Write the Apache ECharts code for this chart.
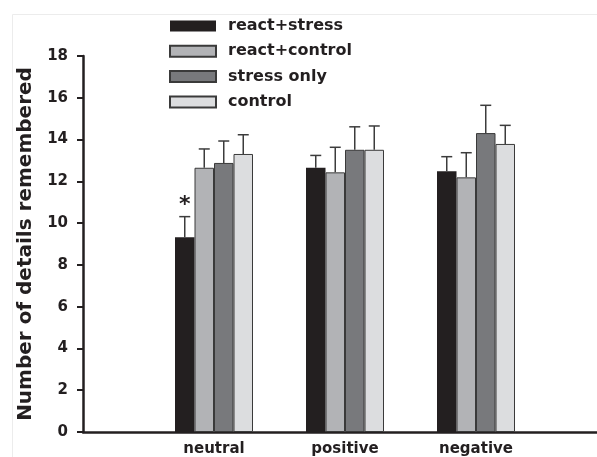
<!DOCTYPE html>
<html>
<head>
<meta charset="utf-8">
<script src="https://cdn.jsdelivr.net/npm/echarts@6/dist/echarts.min.js"></script>
<style>
html,body{margin:0;padding:0;background:#fff;}
#chart{width:597px;height:457px;}
</style>
</head>
<body>
<div id="chart"></div>
<script>
// ---- data ----
var categories = ['', 'neutral', 'positive', 'negative', ''];
var seriesNames = ['react+stress', 'react+control', 'stress only', 'control'];
var reactStress  = [null, 9.32, 12.65, 12.48, null];
var reactControl = [null, 12.65, 12.43, 12.19, null];
var stressOnly   = [null, 12.88, 13.51, 14.31, null];
var controlVals  = [null, 13.31, 13.51, 13.79, null];
// upper end of error bars
var reactStressErr  = [null, 10.31, 13.24, 13.18, null];
var reactControlErr = [null, 13.55, 13.63, 13.37, null];
var stressOnlyErr   = [null, 13.93, 14.61, 15.64, null];
var controlErr      = [null, 14.23, 14.65, 14.68, null];
// significance marks: [categoryIndex, seriesIndex, label]
var sigMarks = [[1, 0, '*']];
var yTicks = { min: 0, max: 18, interval: 2 };

// ---- styling ----
var FONT = 'DejaVu Sans';
var TXT = '#231f20';
var colors = ['#231f20', '#b2b3b6', '#78797c', '#dcdddf'];
var BAR_W = 19.5;

var values = [reactStress, reactControl, stressOnly, controlVals];
var errs = [reactStressErr, reactControlErr, stressOnlyErr, controlErr];

var errData = [];
for (var s = 0; s < values.length; s++) {
  for (var c = 0; c < categories.length; c++) {
    if (values[s][c] != null) {
      var lbl = '';
      sigMarks.forEach(function (m) { if (m[0] === c && m[1] === s) lbl = m[2]; });
      errData.push({ value: [c, s, values[s][c], errs[s][c]], mark: lbl });
    }
  }
}

var series = values.map(function (v, i) {
  return {
    name: seriesNames[i],
    type: 'bar',
    data: v,
    barWidth: BAR_W,
    barGap: '0%',
    itemStyle: { color: colors[i], borderColor: '#3a3a3a', borderWidth: i === 0 ? 0 : 1 },
    emphasis: { disabled: true },
    z: 3
  };
});

series.push({
  type: 'custom',
  name: 'err',
  data: errData,
  z: 5,
  silent: true,
  renderItem: function (params, api) {
    var c = api.value(0), s = api.value(1);
    var p0 = api.coord([c, api.value(2)]);
    var p1 = api.coord([c, api.value(3)]);
    var x = p0[0] + (s - 1.5) * BAR_W;
    var cap = 5.5;
    var children = [
      { type: 'line', shape: { x1: x, y1: p0[1], x2: x, y2: p1[1] }, style: { stroke: '#3c3c3c', lineWidth: 1.5 } },
      { type: 'line', shape: { x1: x - cap, y1: p1[1], x2: x + cap, y2: p1[1] }, style: { stroke: '#3c3c3c', lineWidth: 1.5 } }
    ];
    var mark = errData[params.dataIndex].mark;
    if (mark) {
      children.push({ type: 'text', style: { text: mark, x: x, y: p1[1] - 11, align: 'center', verticalAlign: 'middle', font: 'bold 22px "' + FONT + '"', fill: TXT } });
    }
    return { type: 'group', children: children };
  }
});

var chart = echarts.init(document.getElementById('chart'), null, { renderer: 'canvas' });
chart.setOption({
  backgroundColor: '#ffffff',
  animation: false,
  graphic: [
    { type: 'polyline', shape: { points: [[12.5, 457], [12.5, 14.5], [597, 14.5]] }, style: { stroke: '#ececec', lineWidth: 1, fill: null }, silent: true }
  ],
  grid: { left: 83, width: 524, top: 56, bottom: 25, containLabel: false, outerBoundsMode: 'none' },
  legend: {
    data: seriesNames,
    orient: 'vertical',
    left: 164,
    top: 13,
    itemWidth: 46,
    itemHeight: 11,
    itemGap: 9.3,
    icon: 'rect',
    selectedMode: false,
    textStyle: { fontFamily: FONT, fontWeight: 'bold', fontSize: 16, color: TXT, lineHeight: 16, padding: [0, 0, 0, 7] }
  },
  xAxis: {
    type: 'category',
    data: categories,
    boundaryGap: false,
    axisLine: { lineStyle: { color: TXT, width: 2.5 } },
    axisTick: { show: false },
    axisLabel: { fontFamily: FONT, fontWeight: 'bold', fontSize: 15, color: TXT, margin: 10, interval: 0 },
    splitLine: { show: false }
  },
  yAxis: {
    type: 'value',
    min: yTicks.min,
    max: yTicks.max,
    interval: yTicks.interval,
    name: 'Number of details remembered',
    nameLocation: 'middle',
    nameRotate: 90,
    nameGap: 41,
    nameTextStyle: { fontFamily: FONT, fontWeight: 'bold', fontSize: 20, color: TXT },
    axisLine: { show: true, lineStyle: { color: TXT, width: 2.5 } },
    axisTick: { show: true, length: 6, lineStyle: { color: TXT, width: 2 } },
    axisLabel: { fontFamily: FONT, fontWeight: 'bold', fontSize: 15, color: TXT, margin: 15 },
    splitLine: { show: false }
  },
  series: series
});
</script>
</body>
</html>
